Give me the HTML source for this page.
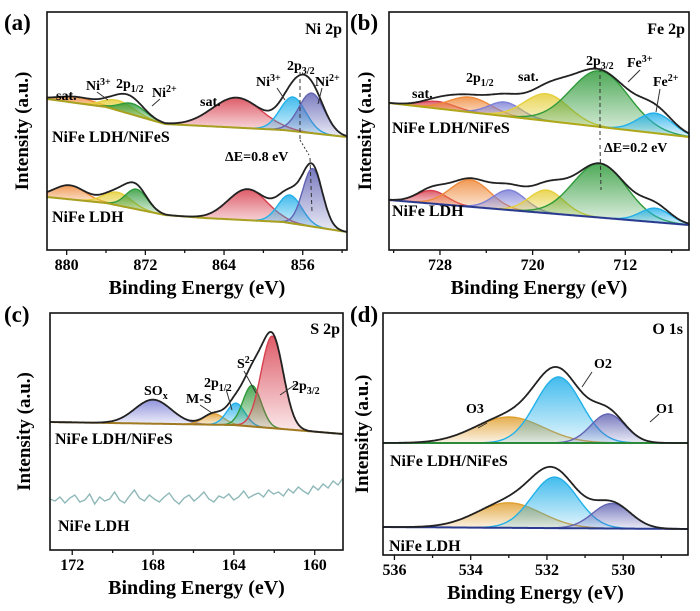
<!DOCTYPE html>
<html><head><meta charset="utf-8"><style>
html,body{margin:0;padding:0;background:#fff;}
svg{display:block;}
text,tspan{font-family:"Liberation Serif","DejaVu Serif",serif !important;font-weight:bold;}
</style></head><body>
<svg id="fig" width="700" height="611" viewBox="0 0 700 611" xmlns="http://www.w3.org/2000/svg" font-family="Liberation Serif, serif" font-weight="bold">
<defs id="defs"></defs>
<rect x="0" y="0" width="700" height="611" fill="#fff"/>
<g id="layer"></g>
<g font-size="23"><text x="4" y="30">(a)</text>
<text x="350" y="30">(b)</text>
<text x="4" y="322">(c)</text>
<text x="350" y="322">(d)</text></g>
<g font-size="16">
<text x="342" y="34" text-anchor="end">Ni 2p</text>
<text x="685" y="34" text-anchor="end">Fe 2p</text>
<text x="340" y="334" text-anchor="end">S 2p</text>
<text x="683" y="334" text-anchor="end">O 1s</text>
</g>
<g font-size="16">
<text x="52" y="142">NiFe LDH/NiFeS</text>
<text x="52" y="222">NiFe LDH</text>
<text x="392" y="133">NiFe LDH/NiFeS</text>
<text x="392" y="216">NiFe LDH</text>
<text x="55" y="444">NiFe LDH/NiFeS</text>
<text x="58" y="531">NiFe LDH</text>
<text x="390" y="466">NiFe LDH/NiFeS</text>
<text x="389" y="551">NiFe LDH</text>
</g>
<g font-size="14">
<text x="56" y="100">sat.</text>
<text x="86" y="90">Ni<tspan dy="-5" font-size="10">3+</tspan></text>
<text x="116" y="88">2p<tspan dy="4" font-size="10">1/2</tspan></text>
<text x="152" y="97">Ni<tspan dy="-5" font-size="10">2+</tspan></text>
<text x="200" y="106">sat.</text>
<text x="256" y="86">Ni<tspan dy="-5" font-size="10">3+</tspan></text>
<text x="287" y="70">2p<tspan dy="4" font-size="10">3/2</tspan></text>
<text x="315" y="86">Ni<tspan dy="-5" font-size="10">2+</tspan></text>
<text x="225" y="161">ΔE=0.8 eV</text>
<text x="412" y="98">sat.</text>
<text x="466" y="82">2p<tspan dy="4" font-size="10">1/2</tspan></text>
<text x="518" y="81">sat.</text>
<text x="586" y="65">2p<tspan dy="4" font-size="10">3/2</tspan></text>
<text x="627" y="67">Fe<tspan dy="-5" font-size="10">3+</tspan></text>
<text x="653" y="86">Fe<tspan dy="-5" font-size="10">2+</tspan></text>
<text x="604" y="152">ΔE=0.2 eV</text>
<text x="144" y="395">SO<tspan dy="4" font-size="10">x</tspan></text>
<text x="186" y="403">M-S</text>
<text x="204" y="387">2p<tspan dy="4" font-size="10">1/2</tspan></text>
<text x="237" y="368">S<tspan dy="-5" font-size="10">2-</tspan></text>
<text x="292" y="390">2p<tspan dy="4" font-size="10">3/2</tspan></text>
<text x="594" y="368">O2</text>
<text x="466" y="413">O3</text>
<text x="656" y="413">O1</text>
</g>
<g stroke="#333" stroke-width="1" fill="none">
<line x1="300" y1="72" x2="300" y2="140" stroke-dasharray="4,3"/>
<line x1="300" y1="140" x2="309" y2="155" stroke-dasharray="2,2"/>
<line x1="310" y1="158" x2="312" y2="212" stroke-dasharray="4,3"/>
<line x1="600" y1="68" x2="600" y2="140" stroke-dasharray="4,3"/>
<line x1="600" y1="145" x2="601" y2="190" stroke-dasharray="4,3"/>
<line x1="97" y1="92" x2="108" y2="100"/><line x1="160" y1="99" x2="152" y2="106"/>
<line x1="277" y1="88" x2="285" y2="100"/><line x1="322" y1="88" x2="318" y2="104"/>
<line x1="640" y1="70" x2="628" y2="82"/><line x1="660" y1="89" x2="656" y2="112"/>
<line x1="200" y1="405" x2="212" y2="413"/><line x1="226" y1="389" x2="232" y2="410"/>
<line x1="244" y1="371" x2="256" y2="393"/><line x1="296" y1="384" x2="280" y2="395"/>
<line x1="592" y1="372" x2="582" y2="387"/><line x1="487" y1="423" x2="478" y2="428"/>
<line x1="659" y1="414" x2="650" y2="422"/>
</g>
</svg>
<script>
// ===== Data: panel (a) Ni 2p =====
const aTicks=[880,872,864,856];
const aTopBaseE=[882,876,870,866,858,851.5];
const aTopBaseI=[151,143,126,124,120,113];
const aTopCenters=[879,874.7,873.3,862.7,857,855.1];
const aTopAmps=[6,10,11,30,34,40];
const aTopSigmas=[1.8,1.5,1.3,2.5,1.3,1.3];
const aBotBaseE=[882,876,870,866,858,851.5];
const aBotBaseI=[53,47,35,32,28,18];
const aBotCenters=[879.7,874.8,872.9,861.6,857.3,855];
const aBotAmps=[14,13,20,31,28,58];
const aBotSigmas=[1.6,1.4,1.1,2.0,1.2,1.0];
// ===== Data: panel (b) Fe 2p =====
const bTicks=[728,720,712];
const bTopBaseE=[732.4,706.5];
const bTopBaseI=[147,113];
const bTopCenters=[728.2,725.4,722.4,718.8,714.2,709.4];
const bTopAmps=[7,15,14,27,56,20];
const bTopSigmas=[1.5,1.8,1.4,1.9,2.5,1.5];
const bBotBaseE=[732.4,706.5];
const bBotBaseI=[50,25];
const bBotCenters=[728.7,725.4,722,718.8,714.2,709.4];
const bBotAmps=[13,27,20,23,54,14];
const bBotSigmas=[1.3,1.7,1.4,1.5,2.3,1.3];
// ===== Data: panel (c) S 2p =====
const cTicks=[172,168,164,160];
const cTopBaseE=[173.1,164,158.6];
const cTopBaseI=[128,125,116];
const cTopCenters=[168,165,163.9,163.1,162.1];
const cTopAmps=[24,11,22,41,92];
const cTopSigmas=[0.9,0.5,0.45,0.45,0.55];
const cBotNoise=[51,49,53,47,52,55,48,50,56,46,53,49,51,58,50,47,54,60,52,49,55,51,48,53,57,50,46,52,55,49,53,58,51,48,54,52,56,50,53,59,52,55,57,53,60,56,58,54,61,57,63,59,56,64,60,66,62,69,65,72];
// ===== Data: panel (d) O 1s =====
const dTicks=[536,534,532,530];
const dTopBaseE=[536.3,528.3];
const dTopBaseI=[112,112];
const dTopCenters=[533.0,531.7,530.4];
const dTopAmps=[26,66,29];
const dTopSigmas=[0.9,0.6,0.45];
const dBotBaseE=[536.3,528.3];
const dBotBaseI=[28,26];
const dBotCenters=[533.0,531.8,530.3];
const dBotAmps=[25,51,25];
const dBotSigmas=[0.85,0.6,0.5];

const COL={orange:'#ef8a3a',yellow:'#e6cf3a',green:'#2f9a3a',red:'#d8404f',cyan:'#22b0ea',blue:'#6264b4',lav:'#7d80d6',amber:'#e0a030'};
const NS='http://www.w3.org/2000/svg';
const layer=document.getElementById('layer');
const defs=document.getElementById('defs');
Object.keys(COL).forEach(k=>{
  const g=document.createElementNS(NS,'linearGradient');
  g.setAttribute('id','g-'+k);g.setAttribute('x1','0');g.setAttribute('y1','0');g.setAttribute('x2','0');g.setAttribute('y2','1');
  g.innerHTML='<stop offset="0" stop-color="'+COL[k]+'" stop-opacity="0.85"/><stop offset="1" stop-color="'+COL[k]+'" stop-opacity="0.12"/>';
  defs.appendChild(g);
});
function mk(tag,attrs,parent){const e=document.createElementNS(NS,tag);for(const k in attrs)e.setAttribute(k,attrs[k]);(parent||layer).appendChild(e);return e;}
function makePanel(left,top,right,bottom,E0,E1){
  return {left,top,right,bottom,E0,E1,
    x:E=>left+(E0-E)/(E0-E1)*(right-left),
    y:I=>bottom-I};
}
const pa=makePanel(47,12,347,250,882,851.5);
const pb=makePanel(389,12,689,250,732.4,706.5);
const pc=makePanel(50,313,343,550,173.1,158.6);
const pd=makePanel(383,313,688,555,536.3,528.3);
function gauss(E,c,a,s){return a*Math.exp(-(E-c)*(E-c)/(2*s*s));}
function baseAt(E,bE,bI){
  if(E>=bE[0])return bI[0];
  for(let i=0;i<bE.length-1;i++){if(E<=bE[i]&&E>=bE[i+1]){const t=(bE[i]-E)/(bE[i]-bE[i+1]);return bI[i]+t*(bI[i+1]-bI[i]);}}
  return bI[bI.length-1];
}
function drawSpectrum(p,bE,bI,cs,as,ss,cols,baseColor,name){
  const N=400,Es=[];
  for(let i=0;i<=N;i++)Es.push(p.E0-(p.E0-p.E1)*i/N);
  cs.forEach((c,j)=>{
    let top=[],bot=[];
    Es.forEach(E=>{const g=gauss(E,c,as[j],ss[j]);if(g>0.15){const b=baseAt(E,bE,bI);top.push([p.x(E),p.y(b+g)]);bot.push([p.x(E),p.y(b)]);}});
    if(!top.length)return;
    let d='M'+top.map(q=>q[0].toFixed(1)+','+q[1].toFixed(1)).join('L')+'L'+bot.reverse().map(q=>q[0].toFixed(1)+','+q[1].toFixed(1)).join('L')+'Z';
    const el=mk('path',{d:d,fill:'url(#g-'+cols[j]+')',stroke:COL[cols[j]],'stroke-width':1.4});
    
    
  });
  const bl=mk('path',{d:'M'+Es.map(E=>p.x(E).toFixed(1)+','+p.y(baseAt(E,bE,bI)).toFixed(1)).join('L'),fill:'none',stroke:baseColor,'stroke-width':2});
  
  
  const env=mk('path',{d:'M'+Es.map(E=>{let s=baseAt(E,bE,bI);cs.forEach((c,j)=>s+=gauss(E,c,as[j],ss[j]));return p.x(E).toFixed(1)+','+p.y(s).toFixed(1);}).join('L'),fill:'none',stroke:'#222','stroke-width':1.8});
  
  
}
function drawAxes(p,ticks,name,ylx){
  const fr=mk('rect',{x:p.left,y:p.top,width:p.right-p.left,height:p.bottom-p.top,fill:'none',stroke:'#111','stroke-width':1.6});
  
  
  const step=ticks[0]-ticks[1];
  for(let E=Math.ceil(p.E1/(step/2))*(step/2);E<=p.E0;E+=step/2){
    const x=p.x(E),maj=ticks.indexOf(E)>=0;
    mk('line',{x1:x,y1:p.bottom,x2:x,y2:p.bottom+(maj?5:3),stroke:'#111','stroke-width':1.3});
  }
  ticks.forEach(t=>{
    const tx=mk('text',{x:p.x(t),y:p.bottom+20,'text-anchor':'middle','font-size':16});
    tx.textContent=String(t);
    
    
  });
  const xt=mk('text',{x:(p.left+p.right)/2,y:p.bottom+44,'text-anchor':'middle','font-size':20});
  xt.textContent='Binding Energy (eV)';
  
  
  const cy=(p.top+p.bottom)/2;
  const yt=mk('text',{x:ylx,y:cy,'text-anchor':'middle','font-size':19,transform:'rotate(-90 '+ylx+' '+cy+')'});
  yt.textContent='Intensity (a.u.)';
  
  
}
drawSpectrum(pa,aTopBaseE,aTopBaseI,aTopCenters,aTopAmps,aTopSigmas,['orange','yellow','green','red','cyan','blue'],'#a8a020','ni-top');
drawSpectrum(pa,aBotBaseE,aBotBaseI,aBotCenters,aBotAmps,aBotSigmas,['orange','yellow','green','red','cyan','blue'],'#a8a020','ni-bottom');
drawSpectrum(pb,bTopBaseE,bTopBaseI,bTopCenters,bTopAmps,bTopSigmas,['red','orange','lav','yellow','green','cyan'],'#b0a818','fe-top');
drawSpectrum(pb,bBotBaseE,bBotBaseI,bBotCenters,bBotAmps,bBotSigmas,['red','orange','lav','yellow','green','cyan'],'#2a3a90','fe-bottom');
drawSpectrum(pc,cTopBaseE,cTopBaseI,cTopCenters,cTopAmps,cTopSigmas,['lav','amber','cyan','green','red'],'#a07a20','s-top');
drawSpectrum(pd,dTopBaseE,dTopBaseI,dTopCenters,dTopAmps,dTopSigmas,['amber','cyan','blue'],'#2a8a3a','o-top');
drawSpectrum(pd,dBotBaseE,dBotBaseI,dBotCenters,dBotAmps,dBotSigmas,['amber','cyan','blue'],'#2a3a90','o-bottom');
const nl=mk('path',{d:'M'+cBotNoise.map((v,i)=>{const E=pc.E0-(pc.E0-pc.E1)*i/(cBotNoise.length-1);return pc.x(E).toFixed(1)+','+pc.y(v).toFixed(1);}).join('L'),fill:'none',stroke:'#8fb8b8','stroke-width':1.4});


drawAxes(pa,aTicks,'ni2p',28);
drawAxes(pb,bTicks,'fe2p',371);
drawAxes(pc,cTicks,'s2p',30);
drawAxes(pd,dTicks,'o1s',368);
</script>
</body></html>
